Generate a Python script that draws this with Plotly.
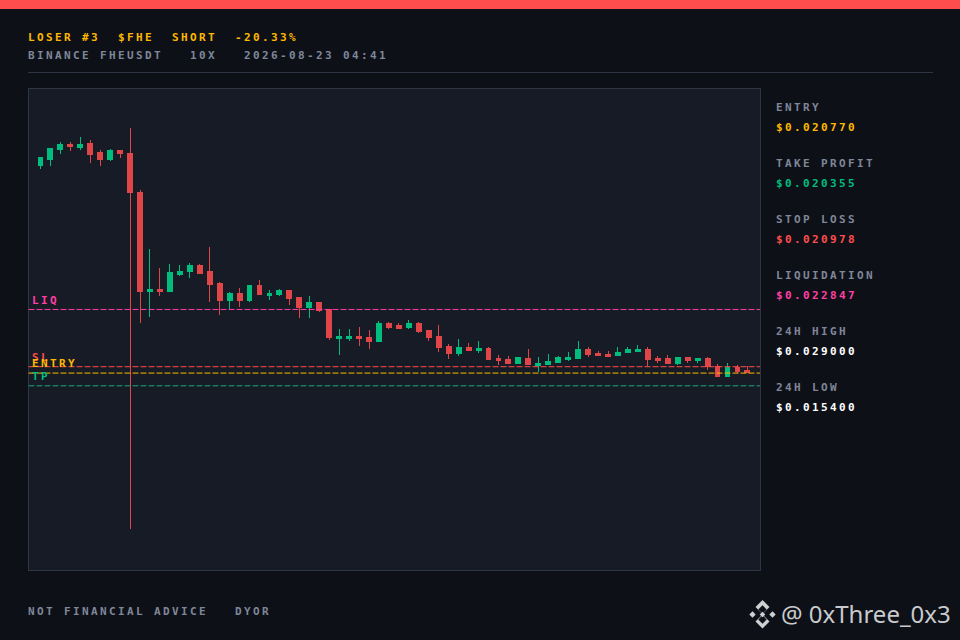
# ============================================
# FHE/USDT - LOSER #3 - velas 24h con niveles
# ============================================

import plotly.graph_objects as go

# ============================================
# SECCIÓN 1: DATOS
# ============================================

velas = list(range(72))

abre = [
    0.027539, 0.027735, 0.028062, 0.028226, 0.028128, 0.028258, 0.027964, 0.027735, 0.028029,
    0.027931, 0.026656, 0.023419, 0.023484, 0.023419, 0.023974, 0.024072, 0.024269, 0.024072,
    0.023680, 0.023124, 0.023353, 0.023124, 0.023615, 0.023288, 0.023321, 0.023451, 0.023222,
    0.022896, 0.023059, 0.022830, 0.021914, 0.021914, 0.021980, 0.021947, 0.021816, 0.022372,
    0.022307, 0.022274, 0.022372, 0.022176, 0.021980, 0.021653, 0.021424, 0.021620, 0.021522,
    0.021587, 0.021260, 0.021228, 0.021097, 0.021260, 0.021032, 0.021064, 0.021130, 0.021228,
    0.021260, 0.021555, 0.021424, 0.021391, 0.021359, 0.021457, 0.021489, 0.021555, 0.021260,
    0.021260, 0.021097, 0.021293, 0.021195, 0.021260, 0.020999, 0.020672, 0.020966, 0.020868,
]
maximo = [
    0.027833, 0.028128, 0.028324, 0.028324, 0.028487, 0.028389, 0.028062, 0.028095, 0.028029,
    0.028781, 0.026754, 0.024825, 0.024203, 0.024334, 0.024301, 0.024367, 0.024334, 0.024890,
    0.023746, 0.023419, 0.023549, 0.023648, 0.023811, 0.023484, 0.023517, 0.023451, 0.023255,
    0.023288, 0.023059, 0.022830, 0.022209, 0.022209, 0.022274, 0.022176, 0.022470, 0.022438,
    0.022405, 0.022503, 0.022438, 0.022176, 0.022340, 0.021718, 0.021882, 0.021751, 0.021816,
    0.021620, 0.021359, 0.021326, 0.021293, 0.021555, 0.021293, 0.021391, 0.021326, 0.021457,
    0.021816, 0.021620, 0.021489, 0.021489, 0.021620, 0.021620, 0.021685, 0.021620, 0.021326,
    0.021359, 0.021293, 0.021293, 0.021260, 0.021293, 0.021064, 0.021097, 0.021032, 0.020999,
]
minimo = [
    0.027441, 0.027539, 0.027931, 0.028029, 0.028062, 0.027637, 0.027539, 0.027702, 0.027800,
    0.015669, 0.022405, 0.022601, 0.023288, 0.023419, 0.023942, 0.023876, 0.024007, 0.023092,
    0.022667, 0.022863, 0.022928, 0.023092, 0.023321, 0.023157, 0.023288, 0.022994, 0.022569,
    0.022569, 0.022765, 0.021849, 0.021359, 0.021816, 0.021653, 0.021555, 0.021816, 0.022209,
    0.022209, 0.022209, 0.022078, 0.021816, 0.021457, 0.021228, 0.021326, 0.021489, 0.021424,
    0.021195, 0.021032, 0.021097, 0.021064, 0.021032, 0.020803, 0.021032, 0.021130, 0.021162,
    0.021260, 0.021293, 0.021326, 0.021326, 0.021359, 0.021424, 0.021489, 0.020999, 0.021097,
    0.021097, 0.021032, 0.021097, 0.021097, 0.020868, 0.020672, 0.020672, 0.020770, 0.020770,
]
cierre = [
    0.027800, 0.028095, 0.028226, 0.028160, 0.028226, 0.027899, 0.027735, 0.028029, 0.027931,
    0.026656, 0.023419, 0.023484, 0.023419, 0.024040, 0.024072, 0.024269, 0.024007, 0.023648,
    0.023124, 0.023353, 0.023124, 0.023615, 0.023321, 0.023353, 0.023451, 0.023190, 0.022896,
    0.023059, 0.022797, 0.021947, 0.021980, 0.021980, 0.021914, 0.021816, 0.022372, 0.022274,
    0.022241, 0.022372, 0.022143, 0.021947, 0.021620, 0.021424, 0.021620, 0.021522, 0.021587,
    0.021228, 0.021195, 0.021097, 0.021293, 0.021064, 0.021097, 0.021162, 0.021293, 0.021293,
    0.021555, 0.021391, 0.021359, 0.021326, 0.021457, 0.021555, 0.021555, 0.021228, 0.021195,
    0.021097, 0.021293, 0.021195, 0.021260, 0.020999, 0.020672, 0.020966, 0.020835, 0.020803,
]

niveles = ["LIQ", "SL", "ENTRY", "TP"]
niveles_precio = [0.022847, 0.020978, 0.020770, 0.020355]

panel_nombres = ["ENTRY", "TAKE PROFIT", "STOP LOSS", "LIQUIDATION", "24H HIGH", "24H LOW"]
panel_valores = ["$0.020770", "$0.020355", "$0.020978", "$0.022847", "$0.029000", "$0.015400"]

titulo = "LOSER #3  $FHE  SHORT  -20.33%"
subtitulo = "BINANCE FHEUSDT   10X   2026-08-23 04:41"
pie = "NOT FINANCIAL ADVICE   DYOR"
marca = "@ 0xThree_0x3"

# ============================================
# SECCIÓN 2: COLORES Y AYUDAS
# ============================================

FONDO = "#0d1017"
PANEL = "#161b25"
BORDE = "#2f3542"
GRIS = "#7f8799"
VERDE = "#00bd7e"
ROJO = "#e04648"
ROJO_VIVO = "#ff4d4d"
AMBAR = "#ffb800"
ROSA = "#ff3fa4"

colores_nivel = [ROSA, ROJO_VIVO, AMBAR, VERDE]
colores_linea = [ROSA, ROJO_VIVO, AMBAR, "#1fa37a"]
y_etiqueta = [300, 357, 363, 376]
colores_panel = [AMBAR, VERDE, ROJO_VIVO, ROSA, "#ffffff", "#ffffff"]


def px(x):
    return x / 960


def py(y):
    return 1 - y / 640


def texto(x, y, s, color, size=11, family="DejaVu Sans Mono", weight=700):
    return dict(
        x=px(x), y=py(y), xref="paper", yref="paper", text=s, showarrow=False,
        xanchor="left", yanchor="middle", align="left",
        borderpad=0, font=dict(family=family, size=size, color=color, weight=weight),
    )


def rombo(cx, cy, r, color):
    # logo: cada pieza es un rombo en pixeles
    path = (
        f"M {px(cx)} {py(cy - r)} L {px(cx + r)} {py(cy)} "
        f"L {px(cx)} {py(cy + r)} L {px(cx - r)} {py(cy)} Z"
    )
    return dict(type="path", xref="paper", yref="paper", path=path,
                fillcolor=color, line=dict(width=0), layer="above")


# ============================================
# SECCIÓN 3: GRÁFICO
# ============================================

fig = go.Figure()

fig.add_trace(go.Candlestick(
    x=velas, open=abre, high=maximo, low=minimo, close=cierre,
    increasing=dict(line=dict(color=VERDE, width=1), fillcolor=VERDE),
    decreasing=dict(line=dict(color=ROJO, width=1), fillcolor=ROJO),
    whiskerwidth=0, showlegend=False,
))

shapes = [
    # barra superior y separador
    dict(type="rect", xref="paper", yref="paper", x0=0, x1=1, y0=py(9), y1=1,
         fillcolor=ROJO_VIVO, line=dict(width=0), layer="below"),
    dict(type="line", xref="paper", yref="paper", x0=px(28), x1=px(933), y0=py(72.5), y1=py(72.5),
         line=dict(color=BORDE, width=1)),
]
for precio, color in zip(niveles_precio, colores_linea):
    shapes.append(dict(type="line", xref="x domain", yref="y", x0=0, x1=1, y0=precio, y1=precio,
                       line=dict(color=color, width=1, dash="6px,2px"), layer="above"))

# logo de Binance
for cx, cy, r in [(762.5, 607, 7), (762.5, 621.5, 7), (752.5, 614.5, 3.2), (772.5, 614.5, 3.2)]:
    shapes.append(rombo(cx, cy, r, "#cfd0d2"))
for cx, cy, r in [(762.5, 609.5, 4.2), (762.5, 619.5, 4.2)]:
    shapes.append(rombo(cx, cy, r, FONDO))
shapes.append(rombo(762.5, 614.5, 2.8, "#cfd0d2"))

anotaciones = [
    texto(26.8, 37, titulo, AMBAR),
    texto(26.8, 55, subtitulo, GRIS),
    texto(26.8, 611, pie, GRIS),
    texto(780, 613, marca, "#c9cacc", size=24, family="Noto Sans", weight=400),
]
for nombre, color, y in zip(niveles, colores_nivel, y_etiqueta):
    anotaciones.append(texto(30.8, y, nombre, color))
for i, (nombre, valor, color) in enumerate(zip(panel_nombres, panel_valores, colores_panel)):
    anotaciones.append(texto(775.3, 107.4 + 56 * i, nombre, GRIS))
    anotaciones.append(texto(775.3, 127.4 + 56 * i, valor, color))

fig.update_layout(
    width=960, height=640, autosize=False,
    margin=dict(l=0, r=0, t=0, b=0),
    paper_bgcolor=FONDO, plot_bgcolor=PANEL,
    shapes=shapes, annotations=anotaciones,
    xaxis=dict(domain=[px(28.5), px(760)], range=[-1.2, 72.265], rangeslider_visible=False,
               showgrid=False, zeroline=False, showticklabels=False, ticks="",
               showline=True, mirror=True, linecolor=BORDE, linewidth=1),
    yaxis=dict(domain=[py(570), py(88.5)], range=[0.014344, 0.030057],
               showgrid=False, zeroline=False, showticklabels=False, ticks="",
               showline=True, mirror=True, linecolor=BORDE, linewidth=1),
)

# Plotly no tiene letter-spacing: se aplica al texto ya dibujado
ajuste = """
document.documentElement.style.background = '#0d1017';
document.body.style.margin = '0';
document.body.style.overflow = 'hidden';
document.querySelectorAll('text.annotation-text').forEach(function (t) {
    if (t.style.fontFamily.indexOf('Mono') < 0) return;
    var b = t.getBBox();
    t.style.whiteSpace = 'pre';
    t.style.letterSpacing = '2.38px';
    t.style.textAnchor = 'start';
    t.setAttribute('x', b.x);
});
document.querySelectorAll('.boxlayer path').forEach(function (p) {
    p.style.shapeRendering = 'crispEdges';
});
"""

fig.write_html("out.html", config={"displayModeBar": False}, post_script=ajuste)
